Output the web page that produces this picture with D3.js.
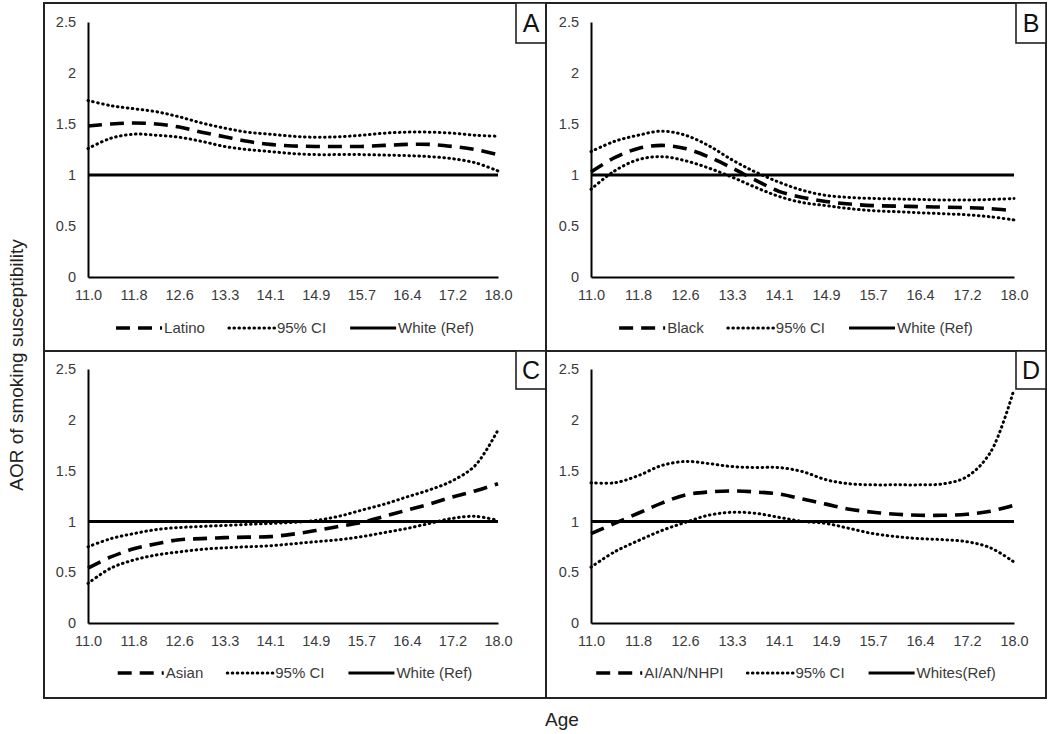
<!DOCTYPE html>
<html>
<head>
<meta charset="utf-8">
<script src="https://cdn.jsdelivr.net/npm/d3@7"></script>
<style>
  html, body { margin: 0; padding: 0; background: #fff; }
  svg { display: block; font-family: "Liberation Sans", Arial, sans-serif; }
</style>
</head>
<body>
<svg id="chart" width="1050" height="734"></svg>
<script>
// ---------------- DATA ----------------
const ageTickLabels = ["11.0", "11.8", "12.6", "13.3", "14.1", "14.9", "15.7", "16.4", "17.2", "18.0"];
const yTickValues = [0, 0.5, 1, 1.5, 2, 2.5];
const yTickLabels = ["0", "0.5", "1", "1.5", "2", "2.5"];
const ages = [11.0, 11.39, 11.78, 12.17, 12.56, 12.94, 13.33, 13.72, 14.11, 14.5,
              14.89, 15.28, 15.67, 16.06, 16.44, 16.83, 17.22, 17.61, 18.0];
const refAges = [11.0, 18.0];
const whiteRef = [1, 1];

const latinoEst = [1.48, 1.50, 1.51, 1.50, 1.47, 1.42, 1.375, 1.33, 1.30, 1.285, 1.28, 1.28, 1.28, 1.29, 1.30, 1.30, 1.28, 1.25, 1.20];
const latinoHi  = [1.73, 1.68, 1.65, 1.62, 1.57, 1.51, 1.46, 1.42, 1.40, 1.38, 1.37, 1.375, 1.39, 1.41, 1.42, 1.42, 1.41, 1.39, 1.38];
const latinoLo  = [1.26, 1.36, 1.40, 1.39, 1.37, 1.33, 1.28, 1.25, 1.23, 1.21, 1.20, 1.20, 1.20, 1.195, 1.19, 1.18, 1.16, 1.12, 1.04];

const blackEst = [1.03, 1.17, 1.26, 1.29, 1.26, 1.18, 1.07, 0.95, 0.84, 0.78, 0.74, 0.715, 0.70, 0.695, 0.69, 0.685, 0.68, 0.67, 0.65];
const blackHi  = [1.23, 1.33, 1.39, 1.43, 1.39, 1.29, 1.15, 1.03, 0.93, 0.85, 0.80, 0.78, 0.77, 0.765, 0.76, 0.755, 0.755, 0.76, 0.77];
const blackLo  = [0.86, 1.04, 1.15, 1.18, 1.14, 1.07, 0.98, 0.88, 0.79, 0.73, 0.70, 0.67, 0.65, 0.64, 0.63, 0.62, 0.61, 0.59, 0.56];

const asianEst = [0.54, 0.65, 0.73, 0.78, 0.82, 0.83, 0.84, 0.845, 0.85, 0.875, 0.91, 0.95, 0.99, 1.05, 1.11, 1.17, 1.24, 1.30, 1.37];
const asianHi  = [0.75, 0.83, 0.88, 0.92, 0.94, 0.95, 0.96, 0.97, 0.98, 0.99, 1.01, 1.05, 1.11, 1.17, 1.24, 1.31, 1.40, 1.55, 1.90];
const asianLo  = [0.39, 0.54, 0.62, 0.67, 0.70, 0.725, 0.74, 0.75, 0.76, 0.78, 0.80, 0.82, 0.85, 0.89, 0.93, 0.98, 1.03, 1.05, 1.01];

const aianEst = [0.88, 0.98, 1.08, 1.18, 1.26, 1.29, 1.30, 1.29, 1.27, 1.22, 1.17, 1.12, 1.09, 1.07, 1.06, 1.06, 1.07, 1.10, 1.16];
const aianHi  = [1.38, 1.38, 1.45, 1.55, 1.59, 1.57, 1.54, 1.53, 1.53, 1.49, 1.41, 1.37, 1.36, 1.36, 1.36, 1.37, 1.44, 1.68, 2.30];
const aianLo  = [0.55, 0.70, 0.81, 0.91, 0.99, 1.06, 1.09, 1.08, 1.04, 1.00, 0.98, 0.93, 0.88, 0.85, 0.83, 0.82, 0.80, 0.74, 0.60];

const panelLetters = ["A", "B", "C", "D"];
const groupNames = ["Latino", "Black", "Asian", "AI/AN/NHPI"];
const ciLabel = "95% CI";
const refLabels = ["White (Ref)", "White (Ref)", "White (Ref)", "Whites(Ref)"];
const estSeries = [latinoEst, blackEst, asianEst, aianEst];
const hiSeries = [latinoHi, blackHi, asianHi, aianHi];
const loSeries = [latinoLo, blackLo, asianLo, aianLo];
const yAxisTitle = "AOR of smoking susceptibility";
const xAxisTitle = "Age";

// ---------------- LAYOUT ----------------
const svg = d3.select("#chart");
const colArea = [[44, 546], [546, 1046]];
const rowArea = [[3, 351], [351, 698]];
const colPlot = [[88, 498], [591, 1014]];
const rowPlot = [[277, 22], [623, 369]];
const legendY = [328, 673];
const textColor = "#3a3a3a";

const styles = {
  est:  { width: 3.6, dash: "14 8", cap: "butt" },
  ci:   { width: 3, dash: "0.6 4.4", cap: "round" },
  ref:  { width: 3, dash: null, cap: "butt" }
};

function applyStyle(sel, st) {
  sel.attr("fill", "none").attr("stroke", "#000")
     .attr("stroke-width", st.width).attr("stroke-linecap", st.cap);
  if (st.dash) sel.attr("stroke-dasharray", st.dash);
  return sel;
}

panelLetters.forEach((letter, p) => {
  const c = p % 2, r = Math.floor(p / 2);
  const g = svg.append("g");

  // chart area frame
  g.append("rect")
    .attr("x", colArea[c][0]).attr("y", rowArea[r][0])
    .attr("width", colArea[c][1] - colArea[c][0])
    .attr("height", rowArea[r][1] - rowArea[r][0])
    .attr("fill", "none").attr("stroke", "#222").attr("stroke-width", 2);

  const x = d3.scaleLinear().domain([11, 18]).range(colPlot[c]);
  const xPts = d3.scalePoint().domain(ageTickLabels).range(colPlot[c]);
  const y = d3.scaleLinear().domain([0, 2.5]).range(rowPlot[r]);

  // axes
  const yAx = g.append("g").attr("transform", `translate(${colPlot[c][0]},0)`)
    .call(d3.axisLeft(y).tickValues(yTickValues)
      .tickFormat((d, i) => yTickLabels[i])
      .tickSize(0).tickSizeOuter(0).tickPadding(12));
  const xAx = g.append("g").attr("transform", `translate(0,${rowPlot[r][0]})`)
    .call(d3.axisBottom(xPts).tickSize(0).tickSizeOuter(0).tickPadding(13));
  [yAx, xAx].forEach(a => {
    a.select(".domain").attr("stroke", "#000").attr("stroke-width", 2);
    a.selectAll("text").attr("font-size", 14.5).attr("fill", textColor)
      .attr("font-family", "Liberation Sans, Arial, sans-serif");
  });

  const line = d3.line()
    .x(d => x(d[0])).y(d => y(d[1]))
    .curve(d3.curveCatmullRom.alpha(0.5));

  // reference line
  applyStyle(g.append("path").datum(refAges.map((a, i) => [a, whiteRef[i]])).attr("d", line), styles.ref);
  // CI lines
  [hiSeries[p], loSeries[p]].forEach(s => {
    applyStyle(g.append("path").datum(ages.map((a, i) => [a, s[i]])).attr("d", line), styles.ci);
  });
  // estimate
  applyStyle(g.append("path").datum(ages.map((a, i) => [a, estSeries[p][i]])).attr("d", line), styles.est);

  // panel letter box
  const bx = colArea[c][1] - 30, by = rowArea[r][0];
  const bh = r === 0 ? 40 : 38;
  g.append("rect").attr("x", bx).attr("y", by).attr("width", 30).attr("height", bh)
    .attr("fill", "#fff").attr("stroke", "#222").attr("stroke-width", 1.6);
  g.append("text").attr("x", bx + 15).attr("y", by + bh / 2)
    .attr("dy", "0.36em").attr("text-anchor", "middle")
    .attr("font-size", 25).attr("fill", "#111").text(letter);

  // legend
  const entries = [
    { label: groupNames[p], st: styles.est },
    { label: ciLabel, st: styles.ci },
    { label: refLabels[p], st: styles.ref }
  ];
  const sampleLen = 46, textGap = 2, entryGap = 24;
  const lg = g.append("g");
  let cursor = 0;
  entries.forEach((e, i) => {
    const eg = lg.append("g").attr("transform", `translate(${cursor},0)`);
    applyStyle(eg.append("line").attr("x1", 0).attr("x2", sampleLen).attr("y1", 0).attr("y2", 0), e.st);
    const t = eg.append("text").attr("x", sampleLen + textGap).attr("y", 0).attr("dy", "0.35em")
      .attr("font-size", 15).attr("fill", textColor).text(e.label);
    const w = t.node().getComputedTextLength();
    cursor += sampleLen + textGap + w + (i < entries.length - 1 ? entryGap : 0);
  });
  const center = (colArea[c][0] + colArea[c][1]) / 2;
  lg.attr("transform", `translate(${center - cursor / 2},${legendY[r]})`);
});

// axis titles
svg.append("text")
  .attr("transform", "translate(23,365) rotate(-90)")
  .attr("text-anchor", "middle").attr("font-size", 19).attr("fill", "#222")
  .text(yAxisTitle);
svg.append("text")
  .attr("x", 562).attr("y", 726)
  .attr("text-anchor", "middle").attr("font-size", 19).attr("fill", "#222")
  .text(xAxisTitle);
</script>
</body>
</html>
